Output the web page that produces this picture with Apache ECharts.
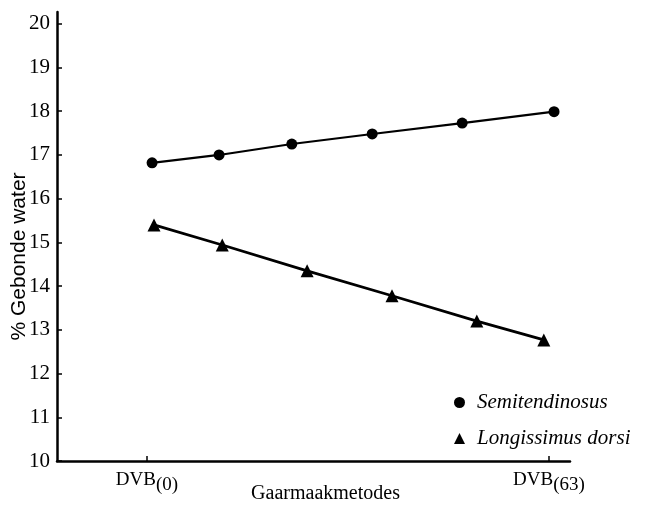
<!DOCTYPE html>
<html>
<head>
<meta charset="utf-8">
<script src="https://cdn.jsdelivr.net/npm/echarts@6/dist/echarts.min.js"></script>
<style>
  html, body { margin: 0; padding: 0; background: #fff; }
  #chart-container { width: 651px; height: 511px; }
</style>
</head>
<body>
<div id="chart-container"></div>
<script>
// Semitendinosus (circles)
var xSemi = [0.8, 11.3, 22.7, 35.3, 49.4, 63.8];
var ySemi = [16.82, 17.0, 17.25, 17.48, 17.73, 17.99];
// Longissimus dorsi (triangles)
var xLong = [1.1, 11.8, 25.1, 38.4, 51.7, 62.2];
var yLong = [15.4, 14.94, 14.35, 13.78, 13.2, 12.77];

var xTicks = [0, 63];
var xTickLabels = ['DVB{s|(0)}', 'DVB{s|(63)}'];
var yTicks = [10, 11, 12, 13, 14, 15, 16, 17, 18, 19, 20];

var seriesNames = ['Semitendinosus', 'Longissimus dorsi'];

(function () {
    var domChart = document.getElementById("chart-container");
    var ioChart = echarts.init(domChart, null, { renderer: 'canvas' });
    var serif = '"Liberation Serif", "DejaVu Serif", serif';

    function pairs(xs, ys) {
        var out = [];
        for (var i = 0; i < xs.length; i++) {
            out.push([xs[i], ys[i]]);
        }
        return out;
    }

    var chartOption = {
        backgroundColor: '#fff',
        animation: false,
        grid: {
            left: 57,
            right: 81,
            top: 12,
            bottom: 50,
            containLabel: false,
            outerBoundsMode: 'none'
        },
        legend: {
            orient: 'vertical',
            left: 449,
            top: 387,
            itemGap: 15,
            itemWidth: 11,
            itemHeight: 11,
            data: [
                { name: seriesNames[0], icon: 'circle' },
                { name: seriesNames[1], icon: 'triangle' }
            ],
            textStyle: {
                fontFamily: serif,
                fontStyle: 'italic',
                fontSize: 21,
                color: '#000',
                padding: [0, 0, 0, 7]
            }
        },
        xAxis: {
            type: 'value',
            min: -14.1,
            max: 66.3,
            splitLine: { show: false },
            axisLine: { onZero: false, lineStyle: { color: '#000', width: 2.5 } },
            axisTick: {
                customValues: xTicks,
                inside: true,
                length: 5,
                lineStyle: { color: '#000', width: 1.5 }
            },
            axisLabel: {
                customValues: xTicks,
                color: '#000',
                fontFamily: serif,
                fontSize: 19,
                margin: 5,
                formatter: function (value) {
                    return xTickLabels[xTicks.indexOf(value)] || '';
                },
                rich: {
                    s: { fontFamily: serif, fontSize: 19, color: '#000', padding: [10, 0, 0, 0] }
                }
            },
            name: 'Gaarmaakmetodes',
            nameLocation: 'middle',
            nameGap: 23,
            nameMoveOverlap: false,
            nameTextStyle: {
                fontFamily: serif,
                fontSize: 20,
                color: '#000',
                padding: [0, 0, 0, 24]
            }
        },
        yAxis: {
            type: 'value',
            min: 10,
            max: 20.27,
            splitLine: { show: false },
            axisLine: { onZero: false, lineStyle: { color: '#000', width: 2.5 } },
            axisTick: {
                customValues: yTicks,
                inside: true,
                length: 5,
                lineStyle: { color: '#000', width: 1.5 }
            },
            axisLabel: {
                customValues: yTicks,
                color: '#000',
                fontFamily: serif,
                fontSize: 21,
                margin: 7
            },
            name: '% Gebonde water',
            nameLocation: 'middle',
            nameGap: 27,
            nameMoveOverlap: false,
            nameTextStyle: {
                fontFamily: '"Liberation Sans", Arial, sans-serif',
                fontSize: 21,
                color: '#000',
                padding: [0, 0, 0, -40]
            }
        },
        series: [
            {
                name: seriesNames[0],
                type: 'line',
                symbol: 'circle',
                symbolSize: 11,
                data: pairs(xSemi, ySemi),
                itemStyle: { color: '#000' },
                lineStyle: { color: '#000', width: 2.2 }
            },
            {
                name: seriesNames[1],
                type: 'line',
                symbol: 'triangle',
                symbolSize: 13,
                data: pairs(xLong, yLong),
                itemStyle: { color: '#000' },
                lineStyle: { color: '#000', width: 2.8 }
            }
        ]
    };
    ioChart.setOption(chartOption);
})();
</script>
</body>
</html>
